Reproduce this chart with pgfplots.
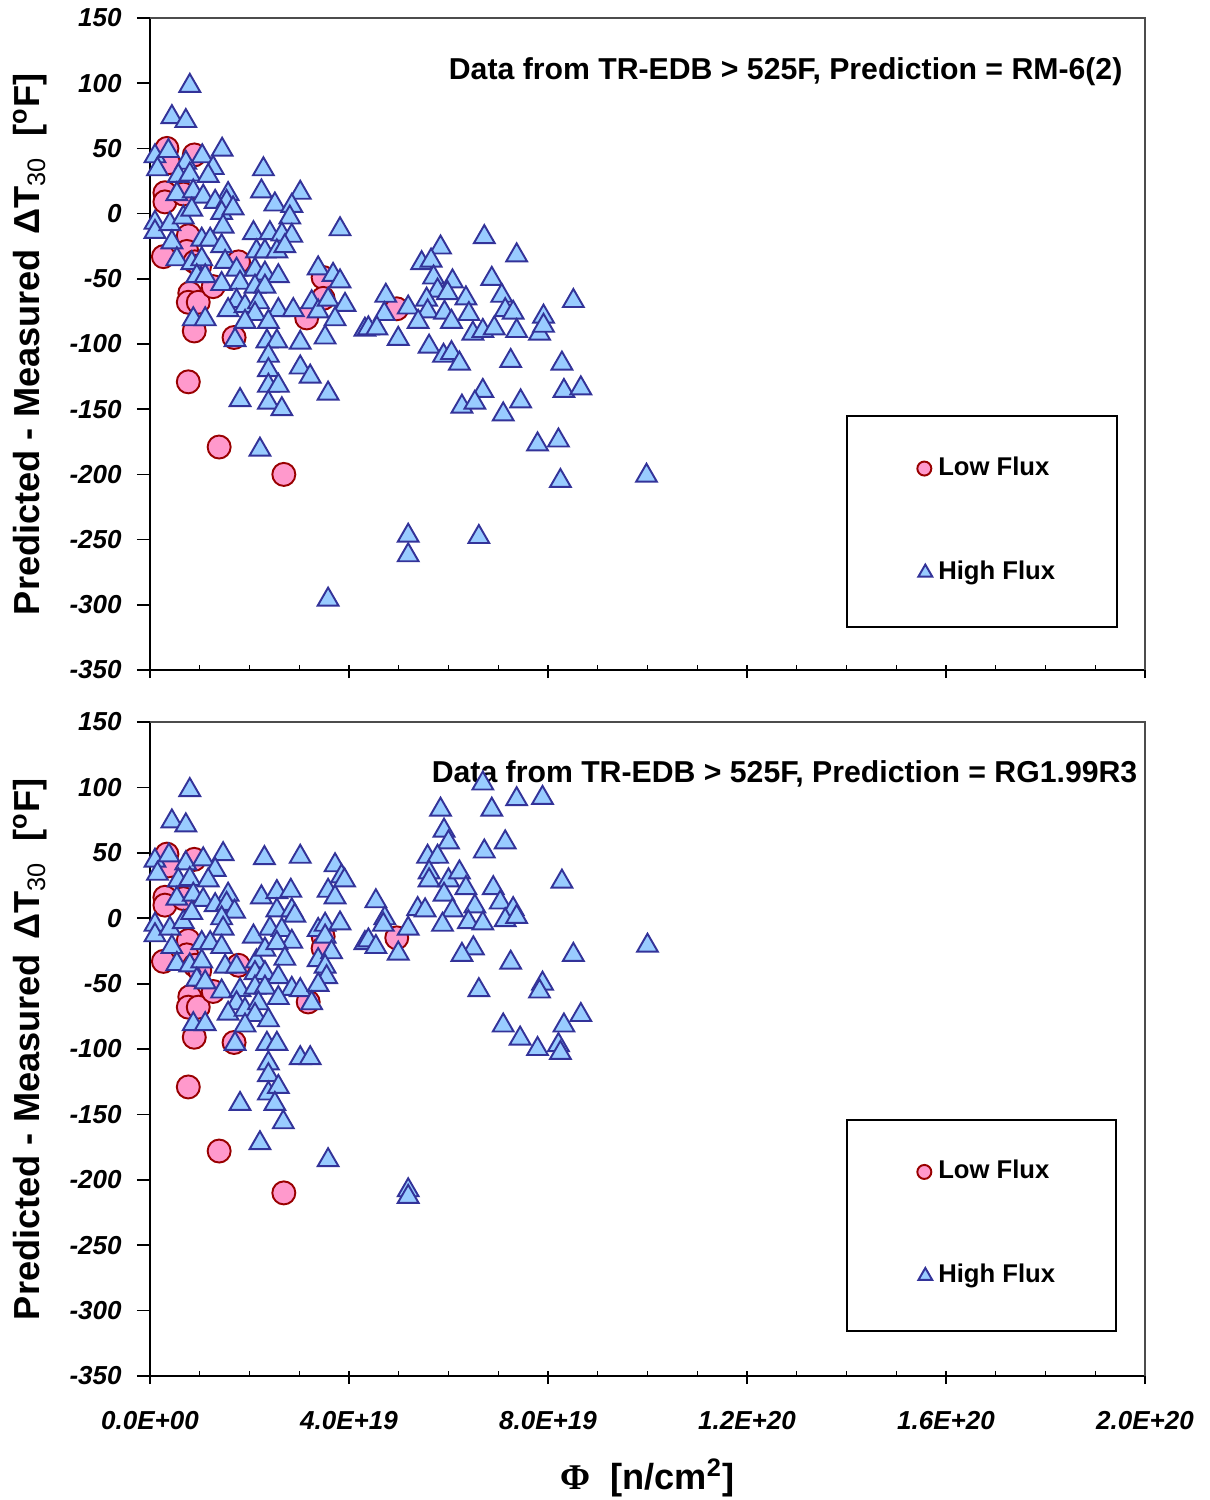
\documentclass[border=0pt]{standalone}
\usepackage{fontspec}
\setmainfont{Liberation Sans}
\newfontfamily\greekserif{Liberation Serif}
\usepackage{pgfplots}
\pgfplotsset{compat=1.18}

\definecolor{lowfill}{HTML}{FF99CC}
\definecolor{lowedge}{HTML}{990000}
\definecolor{highfill}{HTML}{99CCFF}
\definecolor{highedge}{HTML}{333399}

\pgfplotsset{
  panel/.style={
    scale only axis,
    width=9.95cm,
    xmin=0, xmax=20, ymin=-350, ymax=150,
    axis lines*=left,
    axis line style={black, line width=0.8pt},
    xtick={0,4,8,12,16,20},
    minor x tick num=3,
    ytick={-350,-300,...,150},
    yticklabels={-350,-300,-250,-200,-150,-100,-50,0,50,100,150},
    xtick align=inside, ytick align=outside,
    major tick length=1.3mm, minor tick length=0.5mm,
    major x tick style={yshift=-0.8mm, black, line width=0.5pt},
    minor x tick style={black, line width=0.4pt},
    major y tick style={black, line width=0.5pt},
    ticklabel style={font=\fontsize{7.4}{9}\selectfont\bfseries\itshape},
    yticklabel style={xshift=-0.3mm},
    xticklabel style={yshift=-2.3mm},
    every axis y label/.style={at={(rel axis cs:0,0.5)}, rotate=90, anchor=center,
      yshift=12mm, font=\fontsize{10.3}{12}\selectfont\bfseries},
    ylabel={Predicted - Measured \ $\!$ΔT\textsubscript{\mdseries 30} \ [\textsuperscript{o}F]},
    legend style={draw=none, fill=none, inner sep=0pt, row sep=7.8mm, column sep=0.6mm,
      font=\fontsize{7.3}{9}\selectfont\bfseries,
      nodes={inner sep=0pt, text height=2mm, text depth=0.6mm},
      cells={anchor=west}},
    clip=false,
  },
  lowflux/.style={only marks, mark=*, mark size=1.15mm,
    mark options={fill=lowfill, draw=lowedge, line width=0.55pt},
    legend image code/.code={\draw[##1, mark size=0.7mm] plot coordinates {(0.07cm,0cm)};}},
  highflux/.style={only marks, mark=triangle*, mark size=1.2mm,
    mark options={fill=highfill, draw=highedge, line width=0.55pt},
    legend image code/.code={\draw[##1, mark size=0.8mm] plot coordinates {(0.08cm,0cm)};}},
}

\begin{document}
\begin{tikzpicture}
\useasboundingbox (-1.5cm,-8.3cm) rectangle (10.6cm,6.7cm);

% ---------- upper panel: RM-6(2) ----------
\begin{axis}[panel, height=6.52cm, at={(0,0)}, xticklabels={},
  legend style={at={(rel axis cs:0.7705,0.330)}, anchor=north west}]
\addplot[lowflux] coordinates {
(0.34,50)(0.37,39)(0.89,45)(0.30,16)(0.30,9)(0.67,15)(0.27,-33)(0.77,-17)(0.74,-29)(0.90,-37)
(1.0,-40)(0.80,-61)(0.77,-68)(0.97,-68)(0.89,-90)(1.27,-56)(1.78,-37)(1.69,-95)(0.77,-129)(3.48,-49)
(3.48,-65)(3.15,-80)(1.39,-179)(2.69,-200)(4.96,-73)
};
\addplot[highflux] coordinates {
(0.80,98)(0.44,74)(0.72,71)
(0.10,44)(0.37,48)(0.15,34)(0.72,39)(1.05,44)(1.45,49)(1.27,35)(0.57,29)(0.80,30)(1.17,29)
(2.28,34)(0.54,15)(0.87,17)(1.07,13)(1.57,15)(1.31,9)(1.54,9)(2.24,17)(3.02,16)(2.51,7)
(2.85,6)(0.10,-7)(0.10,-14)(0.40,-8)(0.67,-3)(0.84,3)(1.44,0.5)(1.67,4)(1.47,-10)(2.81,-3)
(3.82,-12)(2.08,-15)(2.41,-15)(2.65,-16)(2.85,-17)(0.44,-22)(1.04,-20)(1.21,-20)(1.44,-25)(2.14,-29)
(2.31,-29)(2.55,-29)(2.71,-25)(0.54,-35)(0.84,-38)(1.04,-35)(1.51,-37)(1.74,-43)(2.11,-43)(2.31,-46)
(2.58,-48)(3.38,-42)(3.68,-47)(3.82,-52)(0.94,-48)(1.11,-48)(1.44,-54)(1.81,-53)(2.11,-56)(2.31,-56)
(1.74,-67)(1.57,-74)(1.91,-71)(2.18,-68)(2.58,-74)(2.88,-74)(3.25,-68)(3.38,-75)(3.58,-66)(3.92,-70)
(3.72,-81)(0.87,-81)(1.11,-81)(2.11,-77)(1.91,-83)(2.38,-83)(3.52,-95)(4.32,-89)(1.71,-97)(2.35,-98)
(2.55,-98)(3.02,-99)(2.38,-109)(2.38,-120)(3.02,-118)(3.22,-125)(2.38,-132)(2.58,-132)(1.81,-143)(3.58,-138)
(2.38,-145)(2.65,-150)(2.21,-181)(3.58,-296)
(6.72,-18)(5.84,-26)(7.37,-32)(5.46,-38)(5.65,-36)(5.70,-49)(6.08,-52)(6.87,-50)(4.74,-63)(5.78,-59)
(5.98,-61)(6.35,-65)(7.07,-63)(8.51,-67)(5.19,-72)(5.56,-66)(5.58,-75)(5.92,-76)(6.41,-77)(7.14,-74)
(7.30,-76)(7.91,-79)(4.71,-77)(4.39,-88)(4.56,-88)(5.39,-83)(6.06,-83)(6.49,-92)(6.69,-90)(6.92,-88)
(7.37,-90)(7.83,-92)(7.91,-86)(4.99,-96)(5.61,-102)(5.90,-109)(6.06,-107)(6.22,-115)(7.25,-113)(8.28,-115)
(6.69,-136)(7.45,-144)(6.27,-148)(6.53,-145)(7.10,-154)(8.32,-136)(8.66,-134)(7.79,-177)(8.21,-174)(8.25,-205)
(9.98,-201)(5.19,-247)(5.19,-262)(6.61,-248)
};
\legend{Low Flux, High Flux}
\draw[black!70, line width=0.4pt] (rel axis cs:0,1) -- (rel axis cs:1,1) -- (rel axis cs:1,0);
\draw[black, line width=0.5pt] (rel axis cs:0.7005,0.066) rectangle (rel axis cs:0.9719,0.3896);
\node[anchor=east, inner sep=0pt, font=\fontsize{8.6}{10}\selectfont\bfseries]
  at (rel axis cs:0.978,0.917) {Data from TR-EDB > 525F, Prediction = RM-6(2)};
\end{axis}

% ---------- lower panel: RG1.99R3 ----------
\begin{axis}[panel, height=6.54cm, at={(0,-7.06cm)},
  xticklabels={0.0E+00,4.0E+19,8.0E+19,1.2E+20,1.6E+20,2.0E+20},
  every axis x label/.style={at={(rel axis cs:0.5,0)}, anchor=center, yshift=-10.2mm,
    font=\fontsize{10.3}{12}\selectfont\bfseries},
  xlabel={{\greekserif Φ} \ [n/cm\textsuperscript{2}]},
  legend style={at={(rel axis cs:0.7705,0.333)}, anchor=north west}]
\addplot[lowflux] coordinates {
(0.34,49)(0.37,40)(0.89,45)(0.30,16)(0.30,10)(0.67,15)(0.27,-33)(0.77,-17)(0.74,-28)(0.90,-36)
(1.0,-40)(0.80,-60)(0.77,-68)(0.97,-68)(0.89,-91)(1.27,-56)(1.78,-36)(1.69,-95)(0.77,-129)(3.48,-14)
(3.48,-23)(3.18,-64)(1.39,-178)(2.69,-210)(4.96,-15)
};
\addplot[highflux] coordinates {
(0.80,98)(0.44,74)(0.72,71)
(0.10,44)(0.38,48)(0.15,34)(0.72,42)(1.07,45)(1.47,49)(1.31,37)(0.57,29)(0.80,30)(1.17,29)
(2.30,46)(3.02,47)(3.72,40.5)(3.85,32)(3.91,29)(0.54,15)(0.87,18)(1.07,14)(1.57,18)(1.31,10)
(1.54,11)(1.70,5)(2.24,16)(2.55,20)(2.83,21)(3.58,21)(3.72,16)(2.55,6)(2.85,6)(2.91,2)
(0.10,-5)(0.10,-13)(0.40,-8)(0.67,-3)(0.84,4)(1.44,0)(1.47,-8)(2.08,-14)(2.41,-8)(2.65,-9)
(2.85,-18)(3.38,-9)(3.52,-5)(3.82,-4)(3.52,-14)(4.32,-19)(0.44,-22)(1.04,-19)(1.21,-19)(1.44,-22)
(2.14,-33)(2.31,-24)(2.55,-19)(2.71,-31)(3.38,-32)(3.65,-26)(3.52,-37)(3.55,-45)(0.54,-35)(0.80,-36)
(1.04,-33)(1.51,-37)(1.74,-37)(2.11,-42)(2.31,-42)(2.58,-45)(2.85,-54)(3.02,-55)(3.38,-51)(3.25,-65)
(0.94,-47)(1.11,-49)(1.44,-56)(1.81,-55)(2.11,-53)(2.31,-53)(1.74,-65)(1.57,-73)(1.91,-70)(2.18,-65)
(2.58,-61)(2.11,-74)(1.91,-82)(2.38,-78)(0.87,-81)(1.11,-81)(1.71,-96)(2.35,-96)(2.55,-96)(3.02,-107)
(3.22,-107)(2.38,-111)(2.38,-120)(2.38,-134)(2.58,-129)(1.81,-142)(2.51,-142)(2.68,-156)(2.21,-172)(3.58,-185)
(6.69,103)(7.37,91)(7.89,92)(6.87,83)(5.84,83)(5.91,67)(6.00,58)(6.72,51)(7.14,58)(5.58,47)
(5.78,47)(5.61,35)(5.61,29)(6.00,29)(6.22,35)(6.35,23)(6.90,23)(8.28,28)(5.91,18)(7.04,12)
(7.30,7)(7.14,-1.5)(7.37,1)(5.38,7)(5.53,6)(6.08,6)(6.53,9)(6.40,-3)(6.69,-4)(5.88,-5)
(4.54,13)(4.72,0)(4.69,-5)(4.39,-17)(4.54,-22)(5.19,-8)(4.99,-27)(6.50,-23)(6.27,-28)(7.25,-34)
(8.51,-28)(10.00,-21)(6.61,-55)(7.89,-50)(7.83,-56)(7.10,-82)(7.44,-92)(7.79,-100)(8.21,-97)(8.25,-103)
(8.32,-82)(8.66,-74)(5.19,-208)(5.19,-213)
};
\legend{Low Flux, High Flux}
\draw[black!70, line width=0.4pt] (rel axis cs:0,1) -- (rel axis cs:1,1) -- (rel axis cs:1,0);
\draw[black, line width=0.5pt] (rel axis cs:0.7005,0.0688) rectangle (rel axis cs:0.971,0.391);
\node[anchor=east, inner sep=0pt, font=\fontsize{8.6}{10}\selectfont\bfseries]
  at (rel axis cs:0.993,0.921) {Data from TR-EDB > 525F, Prediction = RG1.99R3};
\end{axis}
\end{tikzpicture}
\end{document}
